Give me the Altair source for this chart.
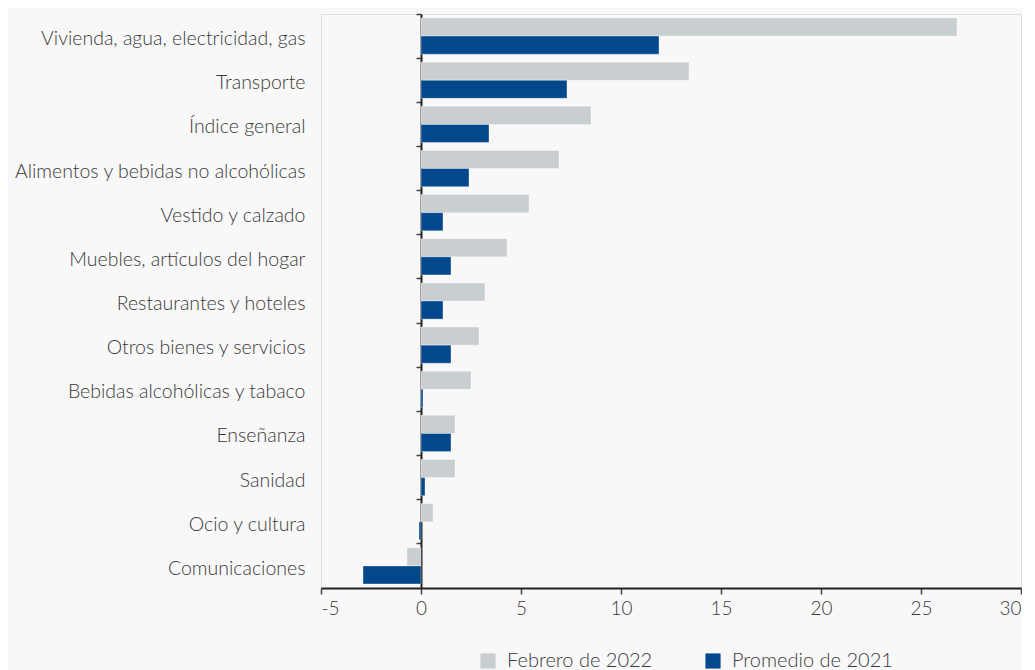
import altair as alt
import pandas as pd

categorias = [
    "Vivienda, agua, electricidad, gas",
    "Transporte",
    "Índice general",
    "Alimentos y bebidas no alcohólicas",
    "Vestido y calzado",
    "Muebles, artículos del hogar",
    "Restaurantes y hoteles",
    "Otros bienes y servicios ",
    "Bebidas alcohólicas y tabaco",
    "Enseñanza",
    "Sanidad",
    "Ocio y cultura",
    "Comunicaciones",
]
febrero_2022 = [26.8, 13.4, 8.5, 6.9, 5.4, 4.3, 3.2, 2.9, 2.5, 1.7, 1.7, 0.6, -0.7]
promedio_2021 = [11.9, 7.3, 3.4, 2.4, 1.1, 1.5, 1.1, 1.5, 0.1, 1.5, 0.2, -0.1, -2.9]
series = ["Febrero de 2022", "Promedio de 2021"]
colores = ["#c9ced1", "#03478c"]
x_ticks = [-5, 0, 5, 10, 15, 20, 25, 30]

rows = []
for c, a, b in zip(categorias, febrero_2022, promedio_2021):
    rows.append({"categoria": c, "serie": series[0], "valor": a})
    rows.append({"categoria": c, "serie": series[1], "valor": b})
df = pd.DataFrame(rows)

FONT = "Lato"
W = 300
TXT = "#3a3a3a"

chart = alt.Chart(df).mark_bar(stroke="white", strokeWidth=0.6, strokeOpacity=0.6).encode(
    x=alt.X(
        "valor:Q",
        scale=alt.Scale(domain=[-5, 30], nice=False, zero=False),
        axis=alt.Axis(
            values=x_ticks, title=None, grid=False, domainColor="#222", domainWidth=2,
            tickColor="#444", tickSize=6, tickWidth=1.5, labelFontSize=19, labelColor=TXT,
            labelFont=FONT, labelFontWeight=W, labelPadding=5,
            labelExpr="'' + datum.value",
        ),
    ),
    y=alt.Y(
        "categoria:N",
        sort=categorias,
        scale=alt.Scale(paddingInner=0, paddingOuter=0),
        axis=alt.Axis(
            title=None, offset=-100, bandPosition=0, tickSize=5, tickColor="#444",
            tickWidth=1.5, domainColor="#222", domainWidth=2, labelPadding=111,
            labelFontSize=19.5, labelColor=TXT, labelFont=FONT, labelFontWeight=W,
            labelLimit=400, labelOffset=3,
        ),
    ),
    yOffset=alt.YOffset(
        "serie:N", sort=series, scale=alt.Scale(paddingInner=0, paddingOuter=0.22)
    ),
    color=alt.Color(
        "serie:N",
        sort=series,
        scale=alt.Scale(domain=series, range=colores),
        legend=alt.Legend(
            title=None, orient="none", legendX=157, legendY=637, direction="horizontal",
            symbolType="square", symbolSize=230, symbolStrokeWidth=0, labelFontSize=20,
            labelColor=TXT, labelFont=FONT, labelFontWeight=W, columnPadding=50,
            labelOffset=9, labelLimit=300,
        ),
    ),
).properties(
    width=700, height=574,
    padding={"left": 5, "top": 5, "right": 0, "bottom": 0},
).configure_view(stroke=None).configure(background="#f8f8f8")

chart.save("out.html", embed_options={"renderer": "svg", "actions": False})
